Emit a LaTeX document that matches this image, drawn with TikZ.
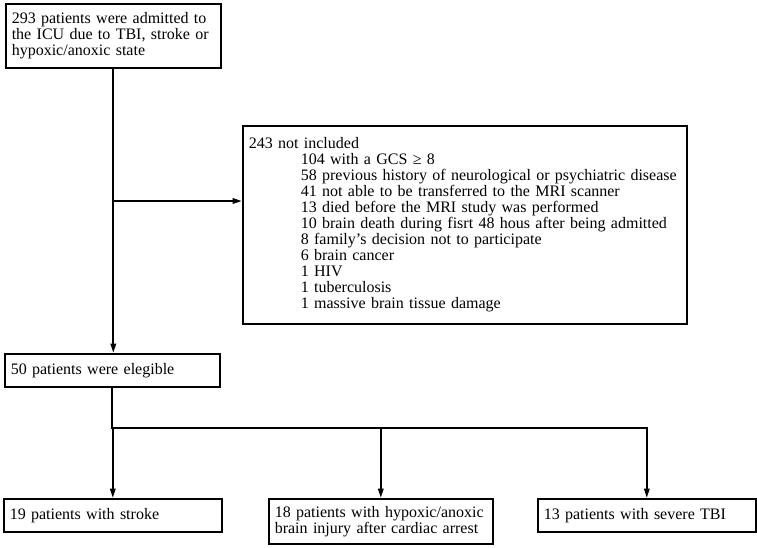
\documentclass[tikz,border=0pt]{standalone}
\usepackage{fontspec}
\setmainfont{Liberation Serif}
\usetikzlibrary{arrows.meta}
\tikzset{
  box/.style={draw, line width=1.2pt, anchor=north west, align=left,
    inner xsep=4.5pt, inner ysep=0pt, font=\fontsize{12}{12}\selectfont},
  link/.style={line width=1.5pt, line cap=rect},
  arr/.style={link, -{Triangle[length=7pt,width=4pt]}}
}
\newcommand{\reasonindent}{\hspace*{39pt}}
\begin{document}
\begin{tikzpicture}[x=0.75pt,y=-0.75pt]
  \useasboundingbox (0,0) rectangle (757,547);
  \node[box, text width=152.25pt, minimum height=48pt] (admit) at (5,3)
    {293 patients were admitted to\\the ICU due to TBI, stroke or\\hypoxic/anoxic state};
  \node[box, text width=324pt, minimum height=148.5pt] (excl) at (242,125)
    {243 not included\\
     \reasonindent 104 with a GCS ≥ 8\\
     \reasonindent 58 previous history of neurological or psychiatric disease\\
     \reasonindent 41 not able to be transferred to the MRI scanner\\
     \reasonindent 13 died before the MRI study was performed\\
     \reasonindent 10 brain death during fisrt 48 hous after being admitted\\
     \reasonindent 8 family’s decision not to participate\\
     \reasonindent 6 brain cancer\\
     \reasonindent 1 HIV\\
     \reasonindent 1 tuberculosis\\
     \reasonindent 1 massive brain tissue damage};
  \node[box, text width=152.25pt, minimum height=24.75pt] (elig) at (4,353)
    {50 patients were elegible};
  \node[box, text width=154.5pt, minimum height=24.75pt] (stroke) at (3,498)
    {19 patients with stroke};
  \node[box, text width=159pt, minimum height=33.75pt] (hypoxic) at (268,498)
    {18 patients with hypoxic/anoxic\\brain injury after cardiac arrest};
  \node[box, text width=154.5pt, minimum height=24.75pt] (tbi) at (537,498)
    {13 patients with severe TBI};
  \coordinate (tap) at (113,201);
  \coordinate (fork) at (113,428);
  \draw[arr] (admit.south) -- (admit.south |- elig.north);
  \draw[arr] (tap) -- (tap -| excl.west);
  \draw[link] (elig.south) -- (elig.south |- fork);
  \draw[link] (stroke.north |- fork) -- (tbi.north |- fork);
  \foreach \n in {stroke,hypoxic,tbi}
    \draw[arr] (\n.north |- fork) -- (\n.north);
\end{tikzpicture}
\end{document}
